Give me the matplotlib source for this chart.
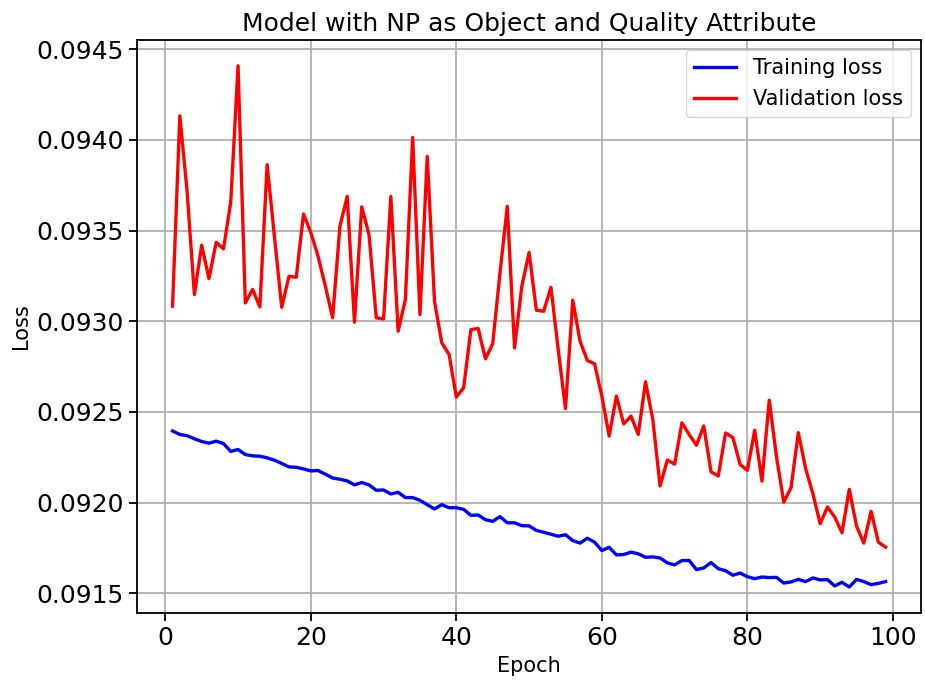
import matplotlib
matplotlib.use("Agg")
import matplotlib.pyplot as plt
import numpy as np

epochs = np.arange(1, 100)

train_loss = [
    0.092395, 0.092376, 0.092369, 0.092352, 0.092337, 0.092328, 0.092339, 0.092326, 0.092282, 0.092293,
    0.092265, 0.092258, 0.092256, 0.092247, 0.092234, 0.092216, 0.092197, 0.092195, 0.092186, 0.092175,
    0.092177, 0.092157, 0.092136, 0.092129, 0.092120, 0.092098, 0.092111, 0.092098, 0.092068, 0.092070,
    0.092048, 0.092057, 0.092028, 0.092028, 0.092013, 0.091989, 0.091965, 0.091989, 0.091972, 0.091972,
    0.091963, 0.091930, 0.091932, 0.091906, 0.091897, 0.091923, 0.091889, 0.091889, 0.091873, 0.091872,
    0.091847, 0.091837, 0.091826, 0.091815, 0.091823, 0.091791, 0.091777, 0.091804, 0.091782, 0.091736,
    0.091754, 0.091712, 0.091714, 0.091727, 0.091718, 0.091699, 0.091701, 0.091695, 0.091668, 0.091657,
    0.091681, 0.091681, 0.091631, 0.091640, 0.091670, 0.091636, 0.091625, 0.091600, 0.091612, 0.091592,
    0.091581, 0.091590, 0.091587, 0.091588, 0.091557, 0.091563, 0.091577, 0.091565, 0.091585, 0.091574,
    0.091576, 0.091541, 0.091561, 0.091535, 0.091577, 0.091565, 0.091548, 0.091555, 0.091565,
]

val_loss = [
    0.093083, 0.094132, 0.093716, 0.093147, 0.093419, 0.093235, 0.093435, 0.093399, 0.093657, 0.094408,
    0.093101, 0.093175, 0.093079, 0.093863, 0.093468, 0.093077, 0.093248, 0.093242, 0.093591, 0.093489,
    0.093358, 0.093193, 0.093019, 0.093523, 0.093688, 0.092995, 0.093630, 0.093477, 0.093019, 0.093013,
    0.093688, 0.092945, 0.093120, 0.094013, 0.093037, 0.093909, 0.093110, 0.092881, 0.092817, 0.092582,
    0.092633, 0.092954, 0.092960, 0.092793, 0.092876, 0.093266, 0.093633, 0.092853, 0.093193, 0.093379,
    0.093061, 0.093055, 0.093187, 0.092844, 0.092518, 0.093116, 0.092890, 0.092784, 0.092765, 0.092587,
    0.092367, 0.092587, 0.092434, 0.092477, 0.092376, 0.092666, 0.092459, 0.092092, 0.092235, 0.092212,
    0.092440, 0.092376, 0.092316, 0.092423, 0.092170, 0.092147, 0.092384, 0.092359, 0.092210, 0.092178,
    0.092399, 0.092119, 0.092565, 0.092252, 0.092003, 0.092083, 0.092386, 0.092188, 0.092050, 0.091884,
    0.091976, 0.091921, 0.091834, 0.092073, 0.091871, 0.091777, 0.091952, 0.091782, 0.091755,
]

fig = plt.figure(figsize=(9.25, 6.85), dpi=100)
ax = fig.add_axes([0.148, 0.105, 0.848, 0.837])

ax.plot(epochs, train_loss, color="blue", linewidth=2.4, label="Training loss")
ax.plot(epochs, val_loss, color="red", linewidth=2.4, label="Validation loss")

ax.set_title("Model with NP as Object and Quality Attribute", fontsize=18)
ax.set_xlabel("Epoch", fontsize=15)
ax.set_ylabel("Loss", fontsize=15)
ax.tick_params(labelsize=18, width=1.3, length=6)
ax.grid(True, color="#b0b0b0", linewidth=1.3)
for s in ax.spines.values():
    s.set_linewidth(1.3)
ax.legend(fontsize=15, loc="upper right")

fig.savefig("out.png", dpi=100)
